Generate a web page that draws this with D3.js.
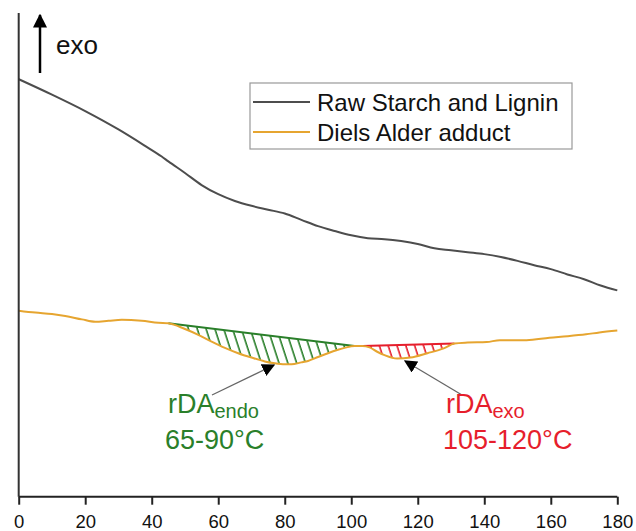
<!DOCTYPE html>
<html>
<head>
<meta charset="utf-8">
<script src="https://cdn.jsdelivr.net/npm/d3@7"></script>
<style>
  body { margin: 0; background: #fff; }
  text { font-family: Arial, 'Liberation Sans', sans-serif; }
</style>
</head>
<body>
<script>
const w = 636
const h = 531

// temperature (°C) and heat flow (arb. units, exo up)
const rawTemp = [0, 10, 20, 30, 38, 43, 45, 50, 55, 60, 65, 70, 75, 80, 85, 90, 95, 100, 105, 110, 115, 120, 125, 130, 135, 140, 145, 150, 155, 160, 165, 170, 175, 180]
const rawSignal = [86.4, 83.2, 79.8, 76.0, 72.6, 70.4, 69.4, 67.0, 64.5, 62.6, 61.2, 60.2, 59.4, 58.6, 57.3, 56.0, 55.0, 54.1, 53.5, 53.3, 52.9, 52.3, 51.4, 51.0, 50.6, 50.2, 49.6, 48.8, 47.9, 47.1, 46.0, 45.0, 43.7, 42.7]

const daTemp = [0, 5, 10, 14, 19, 23, 27, 31, 37, 42, 45, 50, 54, 58, 62, 66, 70, 74, 77, 80, 82, 85, 87, 90, 93, 96, 98, 101, 103.4, 105.5, 107.8, 110, 113.8, 117.8, 122.9, 127.8, 131, 135, 140.7, 144.7, 152.7, 159.6, 165, 170.6, 174.6, 180]
const daSignal = [38.5, 38.1, 37.8, 37.4, 36.7, 36.2, 36.4, 36.6, 36.4, 36.0, 35.9, 34.7, 33.5, 32.1, 30.8, 29.7, 28.8, 28.0, 27.6, 27.4, 27.4, 27.8, 28.1, 28.9, 29.7, 30.4, 30.8, 31.2, 31.2, 30.9, 30.0, 29.3, 28.6, 28.8, 29.7, 30.7, 31.7, 31.9, 32.0, 32.4, 32.4, 32.9, 33.2, 33.6, 34.0, 34.4]

// integration windows for the two peaks
const peaks = [
  { name: 'endo', from: 45, to: 101, color: '#2a7f2a', label: 'rDA', sub: 'endo', range: '65-90°C' },
  { name: 'exo', from: 103.4, to: 131, color: '#e61e2c', label: 'rDA', sub: 'exo', range: '105-120°C' }
]

const xTicks = [0, 20, 40, 60, 80, 100, 120, 140, 160, 180]
const xMinor = [10, 30, 50, 70, 90, 110, 130, 150, 170]

const seriesNames = ['Raw Starch and Lignin', 'Diels Alder adduct']
const seriesColors = ['#4d4d4d', '#e6a530']

const raw = rawTemp.map((t, i) => ({ t, v: rawSignal[i] }))
const da = daTemp.map((t, i) => ({ t, v: daSignal[i] }))

const x = d3.scaleLinear().domain([0, 180]).range([18.7, 617.3])
const y = d3.scaleLinear().domain([0, 100]).range([496.7, 13.5])

const svg = d3.select('body').append('svg')
  .attr('width', w)
  .attr('height', h)

const defs = svg.append('defs')
peaks.forEach(p => {
  const pat = defs.append('pattern')
    .attr('id', 'hatch-' + p.name)
    .attr('patternUnits', 'userSpaceOnUse')
    .attr('width', 8.4)
    .attr('height', 20)
    .attr('patternTransform', 'rotate(-18)')
  pat.append('line')
    .attr('x1', 2).attr('y1', -2).attr('x2', 2).attr('y2', 22)
    .attr('stroke', p.color)
    .attr('stroke-width', 1.6)
})

const marker = (id, size) => defs.append('marker')
  .attr('id', id)
  .attr('viewBox', '0 0 10 10')
  .attr('refX', 9).attr('refY', 5)
  .attr('markerWidth', size).attr('markerHeight', size)
  .attr('markerUnits', 'userSpaceOnUse')
  .attr('orient', 'auto')
  .append('path')
  .attr('d', 'M0,0 L10,5 L0,10 Z')
  .attr('fill', '#000')
marker('head-big', 14)
marker('head-note', 13)

const lineFn = d3.line()
  .x(d => x(d.t))
  .y(d => y(d.v))
  .curve(d3.curveMonotoneX)

// value of the curve at temperature t (linear between read points)
const valueAt = t => {
  const i = d3.bisectLeft(daTemp, t)
  if (daTemp[i] === t) return daSignal[i]
  const a = i - 1
  const f = (t - daTemp[a]) / (daTemp[i] - daTemp[a])
  return daSignal[a] + f * (daSignal[i] - daSignal[a])
}

// hatched peak areas between baseline chord and curve
peaks.forEach(p => {
  const v0 = valueAt(p.from)
  const v1 = valueAt(p.to)
  const chord = t => v0 + (v1 - v0) * (t - p.from) / (p.to - p.from)
  const pts = da.filter(d => d.t >= p.from && d.t <= p.to)
  const area = d3.area()
    .x(d => x(d.t))
    .y0(d => y(chord(d.t)))
    .y1(d => y(d.v))
    .curve(d3.curveMonotoneX)
  svg.append('path')
    .attr('d', area(pts))
    .attr('fill', 'url(#hatch-' + p.name + ')')
  svg.append('line')
    .attr('x1', x(p.from)).attr('y1', y(v0))
    .attr('x2', x(p.to)).attr('y2', y(v1))
    .attr('stroke', p.color)
    .attr('stroke-width', 2)
})

svg.append('path')
  .attr('d', lineFn(raw))
  .attr('fill', 'none')
  .attr('stroke', seriesColors[0])
  .attr('stroke-width', 2)

svg.append('path')
  .attr('d', lineFn(da))
  .attr('fill', 'none')
  .attr('stroke', seriesColors[1])
  .attr('stroke-width', 2)

// axes
svg.append('line')
  .attr('x1', x(0)).attr('x2', x(0))
  .attr('y1', 13).attr('y2', y(0))
  .attr('stroke', '#333')
  .attr('stroke-width', 2)

const gx = svg.append('g')
  .attr('transform', `translate(0,${y(0)})`)
gx.call(d3.axisBottom(x).tickValues(xMinor).tickSize(4).tickFormat(''))
gx.call(d3.axisBottom(x).tickValues(xTicks).tickSize(8).tickFormat(d3.format('d')))
gx.select('.domain').attr('stroke', '#222').attr('stroke-width', 2).attr('d', `M${x(0)},0H${x(180)}`)
gx.selectAll('.tick line').attr('stroke', '#222').attr('stroke-width', 2)
gx.selectAll('.tick text')
  .attr('font-size', 18.5)
  .attr('fill', '#111')
  .attr('y', 18)
  .attr('dy', '0.71em')

// exo arrow
svg.append('line')
  .attr('x1', 40).attr('y1', 73)
  .attr('x2', 40).attr('y2', 15)
  .attr('stroke', '#000')
  .attr('stroke-width', 2.5)
  .attr('marker-end', 'url(#head-big)')
svg.append('text')
  .attr('x', 56).attr('y', 54)
  .attr('font-size', 26)
  .attr('fill', '#111')
  .text('exo')

// legend
const lg = svg.append('g')
lg.append('rect')
  .attr('x', 250).attr('y', 83)
  .attr('width', 322).attr('height', 66)
  .attr('fill', '#fff')
  .attr('stroke', '#999')
  .attr('stroke-width', 1.2)
seriesNames.forEach((n, i) => {
  const yy = 102 + i * 30
  lg.append('line')
    .attr('x1', 253).attr('x2', 310)
    .attr('y1', yy).attr('y2', yy)
    .attr('stroke', seriesColors[i])
    .attr('stroke-width', 2)
  lg.append('text')
    .attr('x', 317).attr('y', yy + 8.5)
    .attr('font-size', 24)
    .attr('fill', '#111')
    .text(n)
})

// peak annotations
const notes = [
  { peak: peaks[0], from: [212, 395], to: [274, 365], tx: 168 },
  { peak: peaks[1], from: [462, 395], to: [405, 361], tx: 446 }
]
notes.forEach(n => {
  svg.append('line')
    .attr('x1', n.from[0]).attr('y1', n.from[1])
    .attr('x2', n.to[0]).attr('y2', n.to[1])
    .attr('stroke', '#666')
    .attr('stroke-width', 1.3)
    .attr('marker-end', 'url(#head-note)')
  const t = svg.append('text')
    .attr('x', n.tx).attr('y', 413)
    .attr('font-size', 27)
    .attr('fill', n.peak.color)
  t.append('tspan').text(n.peak.label)
  t.append('tspan').attr('font-size', 20).attr('dy', 5).text(n.peak.sub)
  svg.append('text')
    .attr('x', n.tx - 3).attr('y', 449)
    .attr('font-size', 27)
    .attr('fill', n.peak.color)
    .text(n.peak.range)
})
</script>
</body>
</html>
